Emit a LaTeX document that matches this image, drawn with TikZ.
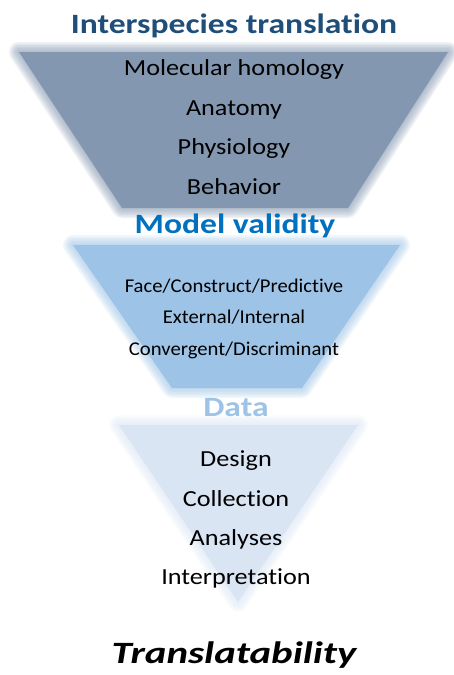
\documentclass[tikz,border=0pt]{standalone}
\usepackage{fontspec}
\setmainfont[Ligatures=NoCommon]{Carlito}
\usepackage{tikz}
\definecolor{slate}{HTML}{8497B0}
\definecolor{midblue}{HTML}{9DC3E6}
\definecolor{paleblue}{HTML}{DAE5F4}
\definecolor{navy}{HTML}{1F4E79}
\definecolor{brightblue}{HTML}{0070C0}

\begin{document}
\begin{tikzpicture}[x=1pt,y=-1pt,
		head/.style={anchor=base, inner sep=0pt, font=\fontsize{28}{30}\selectfont\bfseries\addfontfeature{FakeStretch=1.2}},
		item/.style={anchor=base, inner sep=0pt, font=\fontsize{23}{26}\selectfont\addfontfeature{FakeStretch=1.14}},
		small/.style={anchor=base, inner sep=0pt, font=\fontsize{19.5}{22}\selectfont\addfontfeature{FakeStretch=1.06}},
		soft/.style={line width=#1, line join=round, opacity=0.13}]
				\useasboundingbox (0,0) rectangle (454,675);
				
				\foreach \w in {20,17,14,11,8,5,2}
				\draw[slate, soft=\w pt] (19,52) -- (448,52) -- (348,208) -- (122,208) -- cycle;
				\fill[slate] (19,52) -- (448,52) -- (348,208) -- (122,208) -- cycle;
				
				\foreach \w in {20,17,14,11,8,5,2}
				\draw[midblue, soft=\w pt] (73,245) -- (400,245) -- (302,388) -- (172,388) -- cycle;
				\fill[midblue] (73,245) -- (400,245) -- (302,388) -- (172,388) -- cycle;
				
				\foreach \w in {20,17,14,11,8,5,2}
				\draw[paleblue, soft=\w pt] (119,425) -- (358,425) -- (238,602) -- cycle;
				\fill[paleblue] (119,425) -- (358,425) -- (238,602) -- cycle;
				
				\node[head, text=navy] (interspecies) at (234, 33) {Interspecies translation};
				\node[item] (molecular) at (234, 75) {Molecular homology};
				\node[item] (anatomy) at (234, 115) {Anatomy};
				\node[item] (physiology) at (234, 154) {Physiology};
				\node[item] (behavior) at (234, 194) {Behavior};
				
				\node[head, text=brightblue] (validity) at (235, 233) {Model validity};
				\node[small] (face) at (234, 292) {Face/Construct/Predictive};
				\node[small] (external) at (234, 323) {External/Internal};
				\node[small] (convergent) at (234, 355) {Convergent/Discriminant};
				
				\node[head, text=midblue] (data) at (236, 416) {Data};
				\node[item] (design) at (236, 466) {Design};
				\node[item] (collection) at (236, 506) {Collection};
				\node[item] (analyses) at (236, 545) {Analyses};
				\node[item] (interpretation) at (236, 584) {Interpretation};
				
				\node[head, font=\fontsize{31}{34}\selectfont\bfseries\itshape\addfontfeature{FakeStretch=1.32}] (translatability) at (234, 663) {Translatability};
			\end{tikzpicture}
\end{document}
